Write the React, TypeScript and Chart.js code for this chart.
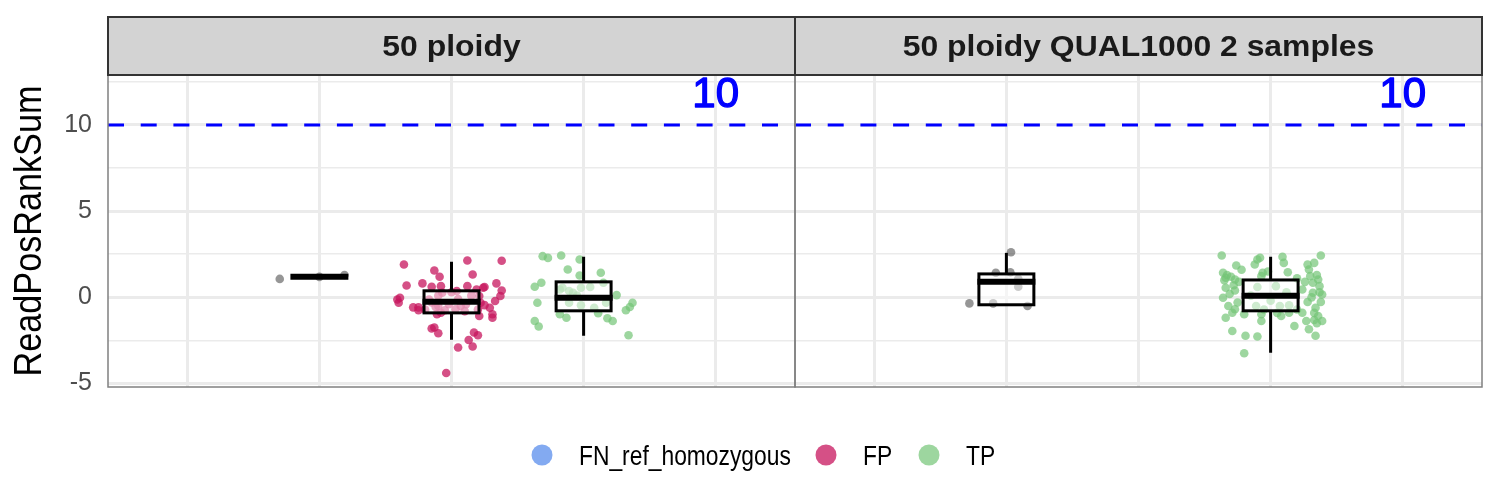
import React, { useEffect, useRef } from "react";
import { Chart, registerables } from "chart.js";
Chart.register(...registerables);

// ---------- data ----------
const panelTitles = ["50 ploidy", "50 ploidy QUAL1000 2 samples"];
const panelOffsets = [0, 5.2];
const panelXMin = 0.4;
const panelXMax = 5.6;
const xGridPositions = [1, 2, 3, 4, 5];
const yMajorTicks = [-5, 0, 5, 10];
const yMinorTicks = [-2.5, 2.5, 7.5, 12.5];
const yMin = -5.2;
const yMax = 12.9;
const yTitle = "ReadPosRankSum";
const refLine = 10;
const refLabel = "10";
const refLabelX = 5;
const refLabelY = 11.92;

const legendLabels = ["FN_ref_homozygous", "FP", "TP"];
const legendColors = ["rgba(100,149,237,0.8)", "rgba(199,21,94,0.75)", "rgba(116,196,118,0.7)"];
const grayColor = "rgba(80,80,80,0.6)";

// jitter offsets (dx) and values (y) per group
const grayLeftDx = [-0.3, 0.19, 0.0];
const grayLeftY = [1.07, 1.3, 1.19];

const fpLeftDx = [-0.36, -0.34, -0.39, -0.4, -0.41, -0.29, -0.25, -0.22, -0.15, -0.13, -0.09, -0.08, -0.07, -0.1, -0.11, -0.08, 0.04, 0.07, 0.12, 0.16, 0.12, 0.19, 0.21, 0.22, 0.21, 0.25, 0.29, 0.31, 0.31, 0.33, 0.34, 0.37, 0.38, 0.38, -0.15, -0.13, -0.1, 0.17, 0.2, 0.13, 0.16, 0.05, -0.04, -0.17, -0.02, 0.11, 0.03, 0.24, -0.2, -0.05, 0.1, 0.2, -0.15, 0.05, 0.15, -0.1, 0.25, -0.25, 0.0, -0.12];
const fpLeftY = [1.91, 0.69, -0.02, -0.31, -0.12, -0.58, -0.58, 0.81, 0.62, 1.56, 1.2, 0.65, 0.27, -0.5, -0.98, -0.89, 0.37, -0.5, 2.14, 1.33, 0.65, 0.46, 0.08, -0.31, -1.08, 0.6, -0.6, -0.98, -1.18, -0.21, 0.81, 0.08, 0.4, 2.12, -1.81, -1.75, -2.08, -2.04, -2.2, -2.47, -2.85, -2.91, -4.39, -0.12, -0.4, -0.4, -0.69, 0.56, -0.7, -0.75, -0.8, -0.7, -0.3, -0.1, 0.1, 0.1, -0.45, -0.75, 0.3, -0.55];

const tpLeftDx = [-0.31, -0.27, -0.17, -0.03, -0.12, -0.03, 0.13, 0.15, -0.32, -0.37, -0.16, -0.11, -0.08, -0.02, 0.25, -0.35, -0.11, -0.02, 0.17, 0.37, 0.35, 0.32, -0.18, -0.13, 0.11, 0.18, 0.22, -0.37, -0.34, 0.34, -0.18, 0.05, 0.08, -0.05];
const tpLeftY = [2.39, 2.29, 2.43, 2.2, 1.62, 1.27, 1.43, 0.85, 0.85, 0.62, 0.56, 0.37, 0.27, 0.56, 0.13, -0.31, -0.31, -0.46, -0.31, -0.31, -0.56, -0.75, -0.98, -1.18, -0.92, -1.21, -1.37, -1.37, -1.69, -2.2, 0.46, 0.6, -0.6, 0.1];

const grayRightDx = [0.035, -0.08, 0.03, 0.09, 0.09, -0.28, -0.1, 0.16];
const grayRightY = [2.62, 1.43, 1.46, 1.08, 0.62, -0.35, -0.35, -0.5];

const tpRightDx = [-0.37, -0.1, -0.08, 0.09, 0.1, 0.38, 0.33, -0.12, -0.26, -0.36, -0.34, -0.27, -0.06, 0.13, 0.29, 0.3, 0.32, 0.36, 0.37, -0.34, -0.27, 0.24, 0.39, 0.32, -0.36, 0.38, 0.28, 0.34, -0.27, -0.29, -0.34, -0.2, -0.07, -0.07, 0.08, 0.14, 0.24, 0.27, 0.33, 0.39, 0.36, 0.18, 0.29, 0.34, -0.29, -0.19, -0.1, -0.2, -0.1, -0.07, 0.04, 0.07, -0.11, 0.14, -0.15, 0.0, 0.12, -0.05, 0.2, -0.33, -0.3, -0.22, -0.24, -0.31, -0.25, -0.32, 0.35, 0.31, 0.37, 0.26, 0.33, 0.35, 0.28, -0.35, -0.28, 0.2, -0.02, 0.05];
const tpRightY = [2.43, 2.2, 2.3, 2.35, 2.0, 2.43, 2.0, 1.91, 1.85, 1.43, 1.14, 1.04, 1.43, 1.46, 1.62, 1.23, 0.85, 1.04, 0.65, 0.56, 0.4, 0.46, 0.17, 0.27, -0.02, -0.27, -0.27, -0.6, -0.69, -0.89, -1.18, -0.98, -0.98, -1.37, -1.08, -0.89, -0.89, -1.37, -1.31, -1.37, -1.08, -1.66, -1.85, -2.23, -1.95, -2.23, -2.27, -3.24, 0.6, 1.23, 0.65, -0.5, -0.5, -0.46, 0.1, -0.2, 0.3, -0.7, -0.7, 1.3, 1.2, 1.6, 0.9, 0.2, -0.3, -0.5, 1.3, 0.0, 0.3, 0.9, -0.9, -1.5, 1.9, 1.0, 0.7, 1.1, 1.5, -0.9];

const groupPanel = [0, 0, 0, 1, 1];
const groupPos = [2, 3, 4, 2, 4];
const groupDx = [grayLeftDx, fpLeftDx, tpLeftDx, grayRightDx, tpRightDx];
const groupY = [grayLeftY, fpLeftY, tpLeftY, grayRightY, tpRightY];
const groupColor = [grayColor, legendColors[1], legendColors[2], grayColor, legendColors[2]];

// box statistics per group
const boxMin = [1.07, -2.46, -2.23, -0.43, -3.22];
const boxQ1 = [1.19, -0.9, -0.78, -0.43, -0.78];
const boxMed = [1.19, -0.26, -0.02, 0.9, 0.09];
const boxQ3 = [1.19, 0.38, 0.9, 1.36, 1.01];
const boxMax = [1.3, 2.06, 2.35, 2.58, 2.35];
const boxHalfWidth = 0.208;

const FONT = "'Liberation Sans', Arial, Helvetica, sans-serif";

function drawScaledText(ctx: CanvasRenderingContext2D, text: string, x: number, y: number, font: string, color: string, sx: number, align: CanvasTextAlign, baseline: CanvasTextBaseline, rot = 0, strokeW = 0) {
  ctx.save();
  ctx.translate(x, y);
  if (rot) ctx.rotate(rot);
  ctx.scale(sx, 1);
  ctx.font = font;
  ctx.fillStyle = color;
  ctx.textAlign = align;
  ctx.textBaseline = baseline;
  ctx.fillText(text, 0, 0);
  if (strokeW > 0) {
    ctx.strokeStyle = color;
    ctx.lineWidth = strokeW;
    ctx.lineJoin = "round";
    ctx.strokeText(text, 0, 0);
  }
  ctx.restore();
}

const facetPlugin = {
  id: "facetPlugin",
  beforeDatasetsDraw(chart: any) {
    const { ctx, scales } = chart;
    const x = scales.x, y = scales.y;
    ctx.save();
    ctx.strokeStyle = "#0000FF";
    ctx.lineWidth = 3;
    ctx.setLineDash([16, 16.7]);
    const py = y.getPixelForValue(refLine);
    panelOffsets.forEach((off) => {
      ctx.beginPath();
      ctx.moveTo(x.getPixelForValue(off + panelXMin), py);
      ctx.lineTo(x.getPixelForValue(off + panelXMax), py);
      ctx.stroke();
    });
    ctx.restore();
  },
  afterDatasetsDraw(chart: any) {
    const { ctx, scales, chartArea: ca } = chart;
    const x = scales.x, y = scales.y;
    ctx.save();
    // boxplots
    for (let i = 0; i < boxMin.length; i++) {
      const cx = panelOffsets[groupPanel[i]] + groupPos[i];
      const pl = x.getPixelForValue(cx - boxHalfWidth);
      const pr = x.getPixelForValue(cx + boxHalfWidth);
      const pc = x.getPixelForValue(cx);
      const q1 = y.getPixelForValue(boxQ1[i]);
      const q3 = y.getPixelForValue(boxQ3[i]);
      const md = y.getPixelForValue(boxMed[i]);
      const mn = y.getPixelForValue(boxMin[i]);
      const mx = y.getPixelForValue(boxMax[i]);
      ctx.strokeStyle = "#000";
      ctx.lineWidth = 3;
      ctx.lineCap = "butt";
      ctx.beginPath();
      ctx.moveTo(pc, q3); ctx.lineTo(pc, mx);
      ctx.moveTo(pc, q1); ctx.lineTo(pc, mn);
      ctx.stroke();
      ctx.fillStyle = "rgba(255,255,255,0.5)";
      ctx.fillRect(pl, q3, pr - pl, q1 - q3);
      ctx.strokeRect(pl, q3, pr - pl, q1 - q3);
      ctx.lineWidth = 6;
      ctx.beginPath();
      ctx.moveTo(pl - 1.5, md); ctx.lineTo(pr + 1.5, md);
      ctx.stroke();
    }
    // panel borders and strips
    panelOffsets.forEach((off, i) => {
      const l = x.getPixelForValue(off + panelXMin);
      const r = x.getPixelForValue(off + panelXMax);
      ctx.strokeStyle = "#808080";
      ctx.lineWidth = 1.5;
      ctx.strokeRect(l, ca.top, r - l, ca.bottom - ca.top);
      const st = 17, sb = ca.top;
      ctx.fillStyle = "#D3D3D3";
      ctx.fillRect(l, st, r - l, sb - st);
      ctx.strokeStyle = "#333333";
      ctx.lineWidth = 2;
      ctx.strokeRect(l, st, r - l, sb - st);
      drawScaledText(ctx, panelTitles[i], (l + r) / 2, 56, `bold 29px ${FONT}`, "#1A1A1A", 1.1, "center", "alphabetic");
      // reference label
      const tx = x.getPixelForValue(off + refLabelX);
      const ty = y.getPixelForValue(refLabelY);
      drawScaledText(ctx, refLabel, tx, ty + 15, `42px ${FONT}`, "#0000FF", 1, "center", "alphabetic", 0, 1.3);
    });
    // y title
    drawScaledText(ctx, yTitle, 31, (ca.top + ca.bottom) / 2, `38px ${FONT}`, "#000", 0.9, "center", "middle", -Math.PI / 2);
    // legend
    const legX = [542, 826, 929];
    legendLabels.forEach((lab, i) => {
      ctx.beginPath();
      ctx.fillStyle = legendColors[i];
      ctx.arc(legX[i], 455, 10.5, 0, Math.PI * 2);
      ctx.fill();
      drawScaledText(ctx, lab, legX[i] + 37, 465, `27.5px ${FONT}`, "#000", 0.83, "left", "alphabetic");
    });
    ctx.restore();
  },
};

export default function App() {
  const ref = useRef<HTMLCanvasElement | null>(null);
  useEffect(() => {
    if (!ref.current) return;
    const datasets = groupY.map((ys, g) => ({
      type: "scatter" as const,
      data: ys.map((v, k) => ({ x: panelOffsets[groupPanel[g]] + groupPos[g] + groupDx[g][k], y: v })),
      backgroundColor: groupColor[g],
      borderWidth: 0,
      pointRadius: 4.3,
      pointHoverRadius: 4.3,
    }));
    const xTicks = panelOffsets.flatMap((off) => xGridPositions.map((p) => off + p));
    const yTicks = [...yMajorTicks, ...yMinorTicks].sort((a, b) => a - b);
    const chart = new Chart(ref.current, {
      type: "scatter",
      data: { datasets },
      options: {
        animation: false,
        responsive: true,
        maintainAspectRatio: false,
        layout: { padding: { top: 75, bottom: 113, left: 0, right: 18 } },
        plugins: { legend: { display: false }, tooltip: { enabled: false } },
        scales: {
          x: {
            type: "linear",
            min: panelXMin,
            max: panelOffsets[1] + panelXMax,
            afterBuildTicks: (s: any) => { s.ticks = xTicks.map((v) => ({ value: v })); },
            afterFit: (s: any) => { s.height = 0; },
            ticks: { display: false },
            border: { display: false },
            grid: { color: "#EBEBEB", lineWidth: 3, drawTicks: false },
          },
          y: {
            type: "linear",
            min: yMin,
            max: yMax,
            afterBuildTicks: (s: any) => { s.ticks = yTicks.map((v) => ({ value: v })); },
            afterFit: (s: any) => { s.width = 108; },
            ticks: {
              padding: 16,
              color: "#4D4D4D",
              font: { family: FONT, size: 25 },
              callback: (v: any) => (yMajorTicks.includes(Number(v)) ? String(v) : ""),
            },
            border: { display: false },
            grid: {
              color: "#EBEBEB",
              drawTicks: false,
              lineWidth: (c: any) => (c.tick && yMajorTicks.includes(c.tick.value) ? 3 : 1.6),
            },
          },
        },
      },
      plugins: [facetPlugin],
    } as any);
    return () => chart.destroy();
  }, []);
  return (
    <div style={{ position: "fixed", left: 0, top: 0, width: 1500, height: 500, background: "#fff" }}>
      <canvas ref={ref} />
    </div>
  );
}
